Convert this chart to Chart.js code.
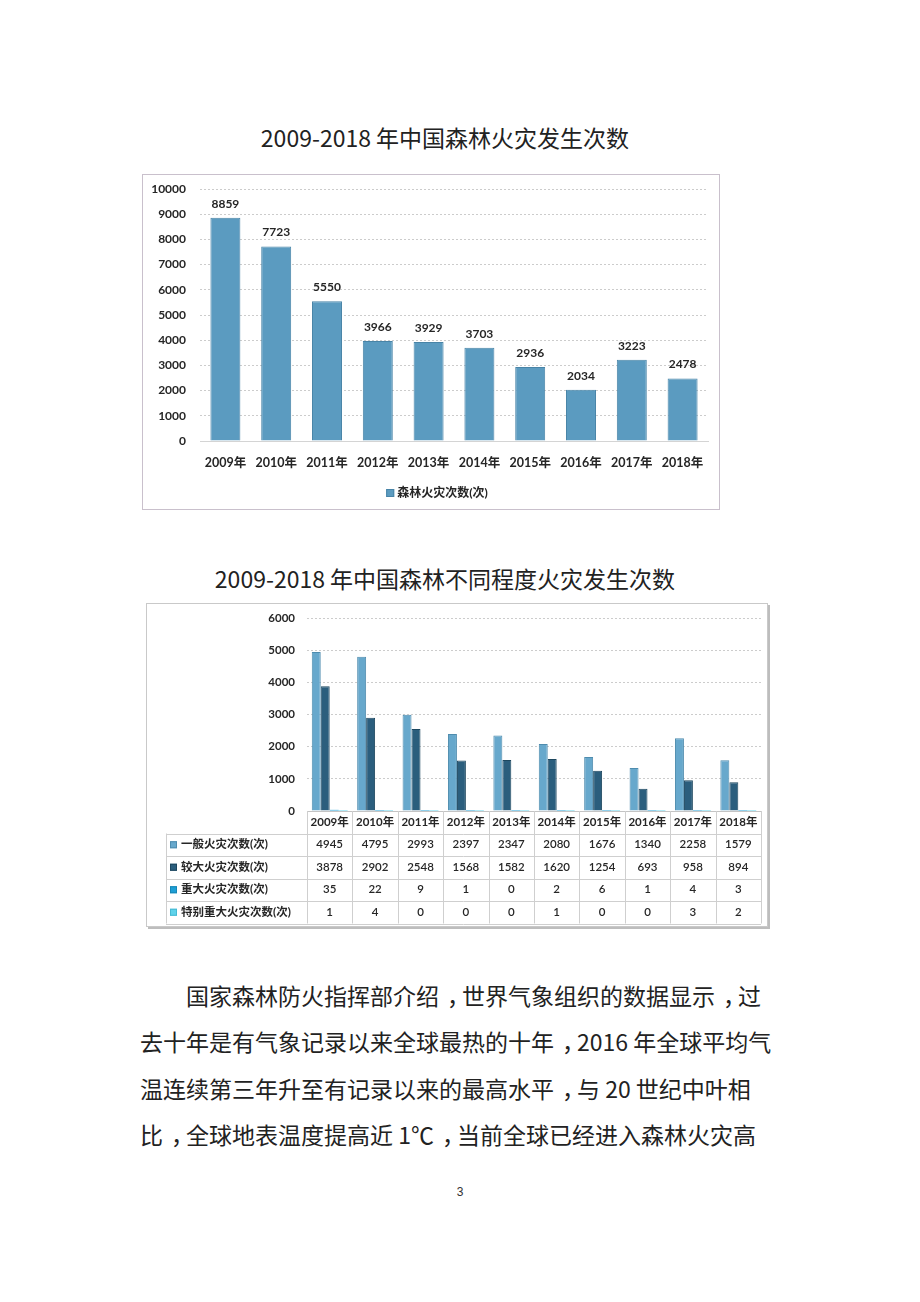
<!DOCTYPE html>
<html>
<head>
<meta charset="utf-8">
<script src="https://cdn.jsdelivr.net/npm/chart.js@4.4.1/dist/chart.umd.min.js"></script>
<style>
  html, body { margin: 0; padding: 0; background: #fff; }
  body { width: 920px; height: 1302px; position: relative; overflow: hidden; font-family: "Noto Sans CJK SC", sans-serif; color: #222; }
  .title { position: absolute; left: 0; width: 890px; text-align: center; font-size: 23px; line-height: 30px; white-space: nowrap; }
  .box1 { position: absolute; left: 142px; top: 174px; width: 576px; height: 334px; border: 1px solid #c9c0cc; }
  .box2 { position: absolute; left: 146px; top: 603px; width: 620px; height: 322px; border: 1px solid #c9c9c9; box-shadow: 2px 2px 0 #bdbdbd; }
  .box1 canvas, .box2 canvas { position: absolute; left: 0; top: 0; }
  .line { position: absolute; font-size: 23px; line-height: 30px; white-space: nowrap; color: #222; }
  .cm { position: relative; left: 8px; }
  .pnum { position: absolute; left: 455px; top: 1184px; width: 10px; text-align: center; font-size: 12px; line-height: 16px; color: #333; font-family: "Liberation Sans", sans-serif; }
</style>
</head>
<body>
<div class="title" style="top:122px;">2009-2018 年中国森林火灾发生次数</div>
<div class="box1"><canvas id="c1" width="576" height="334"></canvas></div>

<div class="title" style="top:563px;">2009-2018 年中国森林不同程度火灾发生次数</div>
<div class="box2"><canvas id="c2" width="620" height="322"></canvas></div>

<div class="line" style="left:186px; top:980px;">国家森林防火指挥部介绍<span class="cm">，</span>世界气象组织的数据显示<span class="cm">，</span>过</div>
<div class="line" style="left:140px; top:1026px;">去十年是有气象记录以来全球最热的十年<span class="cm">，</span>2016 年全球平均气</div>
<div class="line" style="left:140px; top:1073px;">温连续第三年升至有记录以来的最高水平<span class="cm">，</span>与 20 世纪中叶相</div>
<div class="line" style="left:140px; top:1119px;">比<span class="cm">，</span>全球地表温度提高近 1℃<span class="cm">，</span>当前全球已经进入森林火灾高</div>
<div class="pnum">3</div>

<script>
// ---------- DATA ----------
const years = ['2009年','2010年','2011年','2012年','2013年','2014年','2015年','2016年','2017年','2018年'];
const totalFires = [8859, 7723, 5550, 3966, 3929, 3703, 2936, 2034, 3223, 2478];
const totalLabel = '森林火灾次数(次)';

const ordinaryFires = [4945, 4795, 2993, 2397, 2347, 2080, 1676, 1340, 2258, 1579];
const largerFires   = [3878, 2902, 2548, 1568, 1582, 1620, 1254, 693, 958, 894];
const majorFires    = [35, 22, 9, 1, 0, 2, 6, 1, 4, 3];
const extraFires    = [1, 4, 0, 0, 0, 1, 0, 0, 3, 2];
const seriesNames = ['一般火灾次数(次)', '较大火灾次数(次)', '重大火灾次数(次)', '特别重大火灾次数(次)'];

const FONT = 'Lato, "Noto Sans CJK SC", sans-serif';
Chart.defaults.font.family = FONT;
Chart.defaults.color = '#262626';
Chart.defaults.animation = false;

const plainTick = (v) => String(v);

// ---------- CHART 1 ----------
const valueLabels = {
  id: 'valueLabels',
  afterDatasetsDraw(chart) {
    const ctx = chart.ctx;
    const meta = chart.getDatasetMeta(0);
    const data = chart.data.datasets[0].data;
    ctx.save();
    ctx.font = 'bold 12px ' + FONT;
    ctx.fillStyle = '#262626';
    ctx.textAlign = 'center';
    ctx.textBaseline = 'middle';
    meta.data.forEach((bar, i) => {
      ctx.fillText(String(data[i]), bar.x, bar.y - 14);
    });
    ctx.restore();
  }
};
const legend1 = {
  id: 'legend1',
  afterDraw(chart) {
    const ctx = chart.ctx;
    const ds = chart.data.datasets[0];
    ctx.save();
    ctx.font = 'bold 12px ' + FONT;
    const tw = ctx.measureText(ds.label).width;
    const total = 8 + 3 + tw;
    const cx = 294, cy = 318;
    const x0 = cx - total / 2;
    ctx.fillStyle = ds.backgroundColor;
    ctx.fillRect(x0, cy - 4, 8, 8);
    ctx.strokeStyle = ds.borderColor;
    ctx.lineWidth = 1;
    ctx.strokeRect(x0 + 0.5, cy - 3.5, 7, 7);
    ctx.fillStyle = '#262626';
    ctx.textBaseline = 'middle';
    ctx.textAlign = 'left';
    ctx.fillText(ds.label, x0 + 11, cy);
    ctx.restore();
  }
};

new Chart(document.getElementById('c1'), {
  type: 'bar',
  data: {
    labels: years,
    datasets: [{
      label: totalLabel,
      data: totalFires,
      backgroundColor: '#5b9bc0',
      borderColor: '#4884a7',
      borderWidth: 1,
      categoryPercentage: 1,
      barPercentage: 0.59
    }]
  },
  options: {
    responsive: false,
    layout: { padding: { left: 0, right: 11, top: 14, bottom: 0 } },
    plugins: { legend: { display: false }, tooltip: { enabled: false } },
    scales: {
      x: {
        grid: { display: false, drawTicks: false },
        border: { display: true, color: '#d4d4d4' },
        ticks: { font: { size: 12.5, weight: 'bold' }, padding: 14, maxRotation: 0, autoSkip: false },
        afterFit: (a) => { a.height = 68; }
      },
      y: {
        min: 0, max: 10000,
        ticks: { stepSize: 1000, font: { size: 12, weight: 'bold' }, padding: 14, callback: plainTick },
        grid: { color: '#cccccc', drawTicks: false, lineWidth: 1 },
        border: { display: false, dash: [2, 2] },
        afterFit: (a) => { a.width = 57; a.paddingTop = 6; a.paddingBottom = 6; }
      }
    }
  },
  plugins: [valueLabels, legend1]
});

// ---------- CHART 2 ----------
const tablePlugin = {
  id: 'dataTable',
  afterDraw(chart) {
    const ctx = chart.ctx;
    const x = chart.scales.x;
    const ca = chart.chartArea;
    const n = chart.data.labels.length;
    const dsets = chart.data.datasets;
    const rowH = 22.5;
    const top = ca.bottom;
    const tableLeft = 19;
    const catW = (x.right - x.left) / n;
    const bottom = top + rowH * (dsets.length + 1);
    ctx.save();
    ctx.strokeStyle = '#cfcfcf';
    ctx.lineWidth = 1;
    ctx.beginPath();
    for (let r = 1; r <= dsets.length + 1; r++) {
      const y = Math.round(top + r * rowH) + 0.5;
      ctx.moveTo(tableLeft, y); ctx.lineTo(x.right, y);
    }
    for (let i = 0; i <= n; i++) {
      const xb = Math.round(x.left + i * catW) + 0.5;
      ctx.moveTo(xb, top); ctx.lineTo(xb, bottom);
    }
    ctx.moveTo(tableLeft + 0.5, top + rowH); ctx.lineTo(tableLeft + 0.5, bottom);
    ctx.stroke();

    ctx.textBaseline = 'middle';
    dsets.forEach((ds, r) => {
      const cy = top + rowH * (r + 1) + rowH / 2;
      ctx.fillStyle = ds.backgroundColor;
      ctx.fillRect(tableLeft + 4, cy - 3.5, 7, 7);
      ctx.strokeStyle = ds.borderColor;
      ctx.strokeRect(tableLeft + 4.5, cy - 3, 6, 6);
      ctx.fillStyle = '#262626';
      ctx.textAlign = 'left';
      ctx.font = 'bold 11.5px ' + FONT;
      ctx.fillText(ds.label, tableLeft + 15, cy);
      ctx.textAlign = 'center';
      ctx.font = '600 11.5px ' + FONT;
      ds.data.forEach((v, i) => {
        ctx.fillText(String(v), x.getPixelForValue(i), cy);
      });
    });
    ctx.restore();
  }
};

const colors2 = ['#67a8cc', '#2b5e7d', '#1d9fd6', '#5fd2ea'];
const borders2 = ['#4e8cae', '#1d475f', '#1786b5', '#45b9d2'];
const series2 = [ordinaryFires, largerFires, majorFires, extraFires];

new Chart(document.getElementById('c2'), {
  type: 'bar',
  data: {
    labels: years,
    datasets: series2.map((d, k) => ({
      label: seriesNames[k],
      data: d,
      backgroundColor: colors2[k],
      borderColor: borders2[k],
      borderWidth: k < 2 ? 1 : 0,
      minBarLength: 1,
      categoryPercentage: 0.79,
      barPercentage: 1
    }))
  },
  options: {
    responsive: false,
    layout: { padding: { left: 0, right: 6, top: 14, bottom: 0 } },
    plugins: { legend: { display: false }, tooltip: { enabled: false } },
    scales: {
      x: {
        grid: { display: false, drawTicks: false },
        border: { display: true, color: '#c4c4c4' },
        ticks: { font: { size: 11.5, weight: 'bold' }, padding: 4, maxRotation: 0, autoSkip: false },
        afterFit: (a) => { a.height = 115; }
      },
      y: {
        min: 0, max: 6000,
        ticks: { stepSize: 1000, font: { size: 11.5, weight: 'bold' }, padding: 12, callback: plainTick },
        grid: { color: '#cccccc', drawTicks: false, lineWidth: 1 },
        border: { display: false, dash: [2, 2] },
        afterFit: (a) => { a.width = 160; a.paddingTop = 6; a.paddingBottom = 6; }
      }
    }
  },
  plugins: [tablePlugin]
});
</script>
</body>
</html>
